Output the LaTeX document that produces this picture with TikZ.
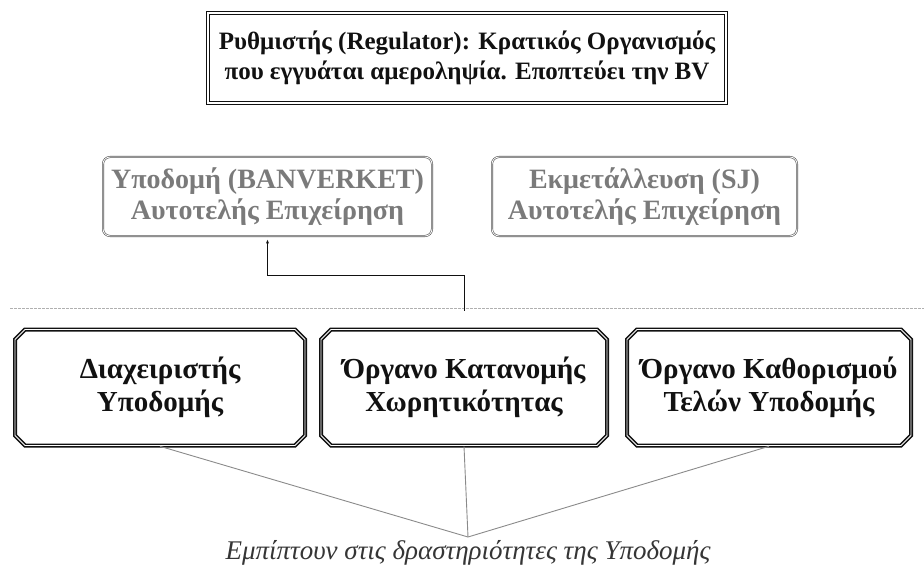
\documentclass[tikz,border=0pt]{standalone}
\usepackage{fontspec}
\setmainfont{Liberation Serif}
\usepackage{tikz}
\usetikzlibrary{arrows.meta,positioning,shapes.misc}
\definecolor{ink}{HTML}{111111}
\definecolor{dim}{HTML}{7A7A7A}
\definecolor{dimline}{HTML}{555555}
\definecolor{rule}{HTML}{B0B0B0}
\definecolor{vline}{HTML}{8A8A8A}
\tikzset{
  regbox/.style={draw=ink, double, double distance=2pt, line width=0.8pt,
    minimum width=518pt, minimum height=90pt, align=center, text=ink,
    font=\bfseries\fontsize{25}{30}\selectfont},
  firmbox/.style={draw=dimline, double, double distance=0.8pt, line width=0.6pt,
    rounded corners=7pt, minimum height=79pt, align=center, text=dim,
    font=\bfseries\fontsize{28}{31}\selectfont},
  unitbox/.style={chamfered rectangle, chamfered rectangle sep=5pt,
    draw=ink, double, double distance=0.8pt, line width=1.6pt,
    minimum height=116pt, align=center, text=ink,
    font=\bfseries\fontsize{29}{33}\selectfont},
  link/.style={draw=ink, line width=0.8pt},
  spoke/.style={draw=vline, line width=0.9pt},
  divider/.style={draw=rule, line width=0.6pt, dash pattern=on 3pt off 1pt},
  note/.style={font=\itshape\fontsize{27}{30}\selectfont, text=ink!85},
}
\begin{document}
\begin{tikzpicture}[x=1pt, y=-1pt]
\useasboundingbox (0,0) rectangle (924,575);

% regulator
\node[regbox] (reg) at (467,58) {Ρυθμιστής (Regulator): Κρατικός Οργανισμός\\που εγγυάται αμεροληψία. Εποπτεύει την BV};

% two companies
\node[firmbox, minimum width=329pt] (ypo) at (267.5,196.5) {Υποδομή (BANVERKET)\\Αυτοτελής Επιχείρηση};
\node[firmbox, minimum width=305pt] (ekm) at (644.5,196.5) {Εκμετάλλευση (SJ)\\Αυτοτελής Επιχείρηση};

\draw[divider] (10,308) -- (924,308);

% infrastructure bodies
\node[unitbox, minimum width=290pt] (diax) at (160,387.5) {Διαχειριστής\\Υποδομής};
\node[unitbox, minimum width=286pt] (kat) at (464,387.5) {Όργανο Κατανομής\\Χωρητικότητας};
\node[unitbox, minimum width=284pt] (kath) at (769,387.5) {Όργανο Καθορισμού\\Τελών Υποδομής};

\draw[link, -{Latex[length=4pt,width=3pt]}, shorten >=3pt]
  ([yshift=18pt]kat.north) -- ++(0,-35) -| (ypo.south);

% common activity
\coordinate (apex) at (468,537);
\draw[spoke] (diax.south) -- (apex);
\draw[spoke] (kat.south) -- (apex);
\draw[spoke] (kath.south) -- (apex);
\node[note, below=0pt of apex] (act) {Εμπίπτουν στις δραστηριότητες της Υποδομής};
\end{tikzpicture}
\end{document}
